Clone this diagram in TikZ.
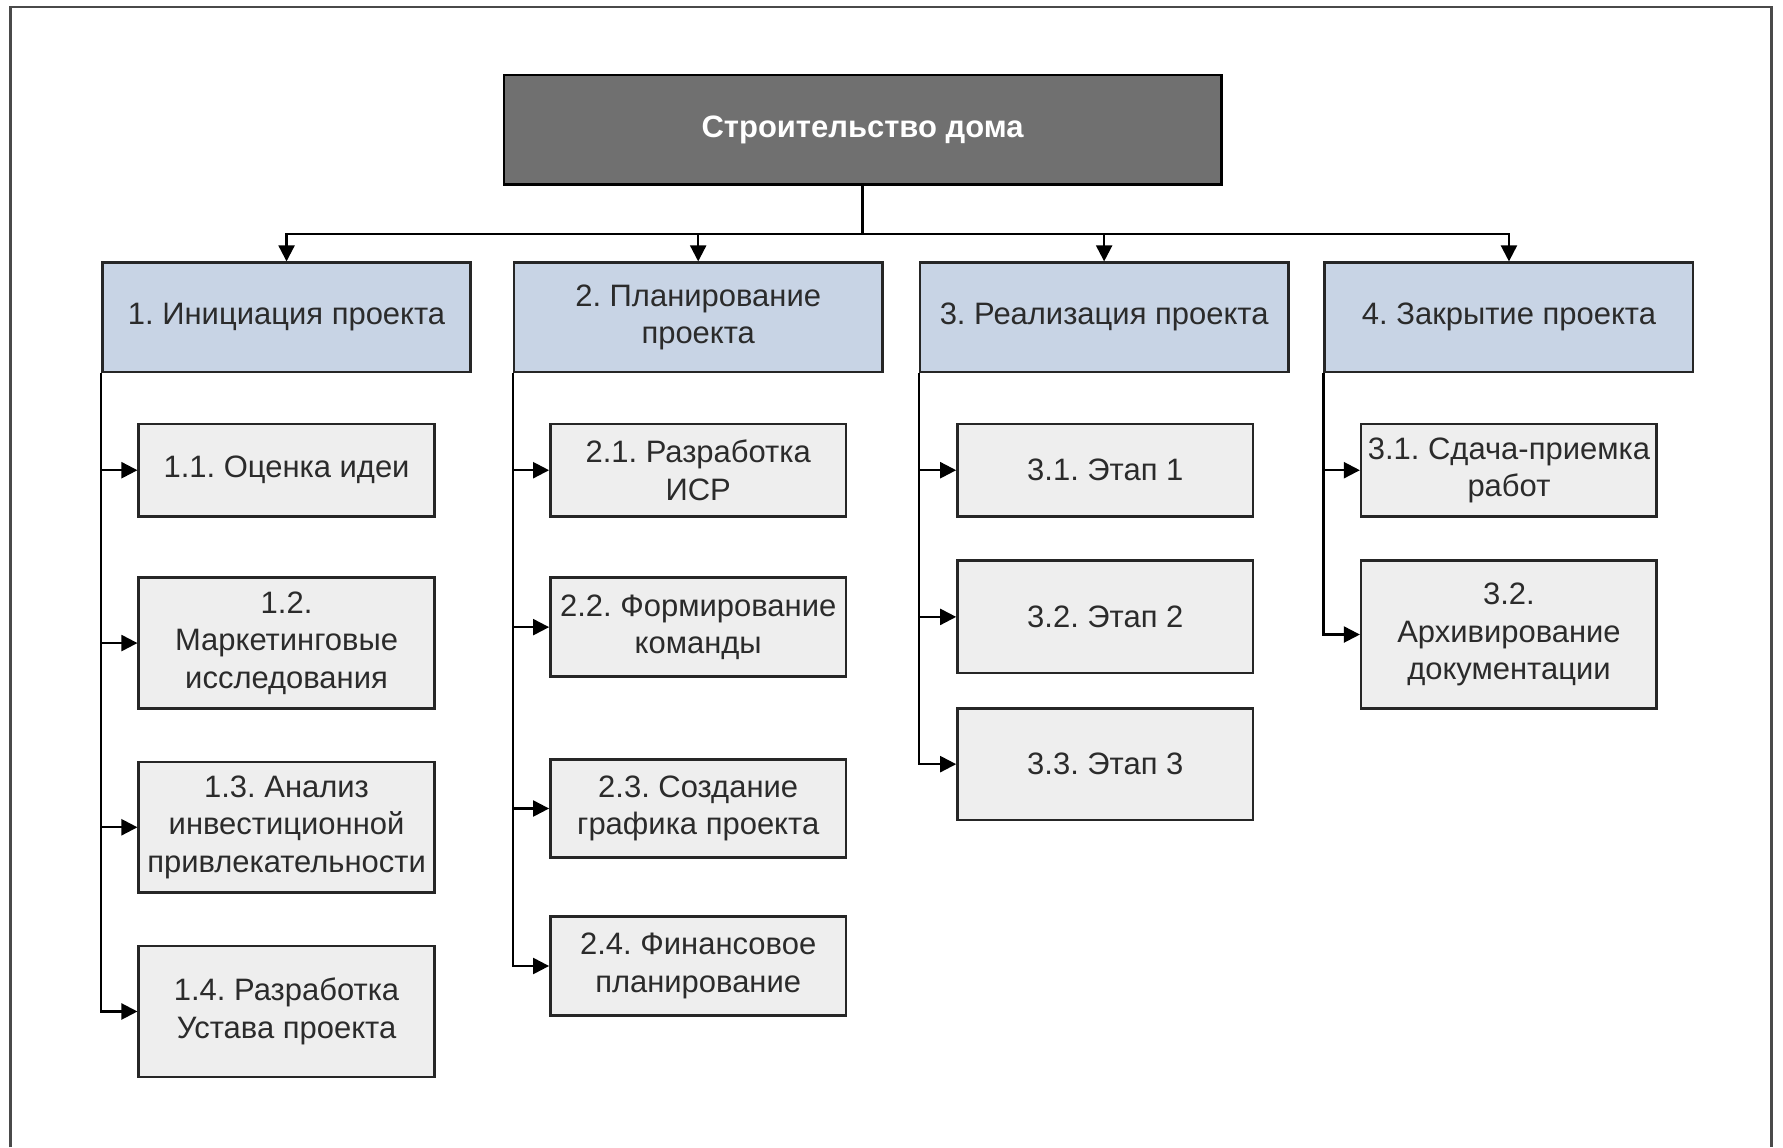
\documentclass[tikz,border=0pt]{standalone}
\usepackage{fontspec}
\setmainfont{Liberation Sans}
\usetikzlibrary{arrows.meta}
\definecolor{topfill}{HTML}{707070}
\definecolor{phasefill}{HTML}{C8D4E5}
\definecolor{childfill}{HTML}{EEEEEE}
\definecolor{txt}{HTML}{2B2B2B}
\definecolor{framecol}{HTML}{4A4A4A}
\frenchspacing
\begin{document}
\begin{tikzpicture}[x=0.02cm,y=-0.02cm,
 every node/.style={font=\fontsize{15.5}{18.7}\selectfont, align=center, inner sep=0pt, text=txt},
 topbox/.style={draw=black, line width=1.3pt, fill=topfill, minimum width=12.62cm, minimum height=1.92cm, text=white, font=\bfseries\fontsize{15.5}{18.7}\selectfont},
 phasebox/.style={draw=black!85, line width=1.3pt, fill=phasefill, minimum width=6.48cm, minimum height=1.92cm},
 childbox/.style={draw=black!85, line width=1.3pt, fill=childfill, minimum width=5.2cm, minimum height=#1},
 conn/.style={line width=1.1pt, black},
 arr/.style={conn, -{Triangle[length=8pt,width=8pt]}}
]
\useasboundingbox (0,0) rectangle (1568,1009);
\draw[framecol, line width=1.3pt] (9,1009) -- (9,6) -- (1558,6) -- (1558,1009);

\node[topbox] (top) at (758.5,114) {Строительство дома};

\node[phasebox] (p1) at (252,279) {1. Инициация проекта};
\node[phasebox] (p2) at (614,279) {2. Планирование\\проекта};
\node[phasebox] (p3) at (971,279) {3. Реализация проекта};
\node[phasebox] (p4) at (1327,279) {4. Закрытие проекта};

\node[childbox=1.62cm] (c11) at (252,413.5) {1.1. Оценка идеи};
\node[childbox=2.3cm] (c12) at (252,565.5) {1.2.\\Маркетинговые\\исследования};
\node[childbox=2.3cm] (c13) at (252,727.5) {1.3. Анализ\\инвестиционной\\привлекательности};
\node[childbox=2.3cm] (c14) at (252,889.5) {1.4. Разработка\\Устава проекта};

\node[childbox=1.62cm] (c21) at (614,413.5) {2.1. Разработка\\ИСР};
\node[childbox=1.74cm] (c22) at (614,551.5) {2.2. Формирование\\команды};
\node[childbox=1.72cm] (c23) at (614,711) {2.3. Создание\\графика проекта};
\node[childbox=1.74cm] (c24) at (614,849.5) {2.4. Финансовое\\планирование};

\node[childbox=1.62cm] (c31) at (972,413.5) {3.1. Этап 1};
\node[childbox=1.98cm] (c32) at (972,542.5) {3.2. Этап 2};
\node[childbox=1.96cm] (c33) at (972,672) {3.3. Этап 3};

\node[childbox=1.62cm] (c41) at (1327,413.5) {3.1. Сдача-приемка\\работ};
\node[childbox=2.6cm] (c42) at (1327,558) {3.2.\\Архивирование\\документации};

\coordinate (bus) at (758.5,206);
\draw[conn] (top.south) -- (bus);
\foreach \p in {p1,p2,p3,p4} \draw[arr] (bus) -| (\p.north);

\foreach \c in {c11,c12,c13,c14} \draw[arr] (p1.south west) |- (\c.west);
\foreach \c in {c21,c22,c23,c24} \draw[arr] (p2.south west) |- (\c.west);
\foreach \c in {c31,c32,c33} \draw[arr] (p3.south west) |- (\c.west);
\foreach \c in {c41,c42} \draw[arr] (p4.south west) |- (\c.west);
\end{tikzpicture}
\end{document}
